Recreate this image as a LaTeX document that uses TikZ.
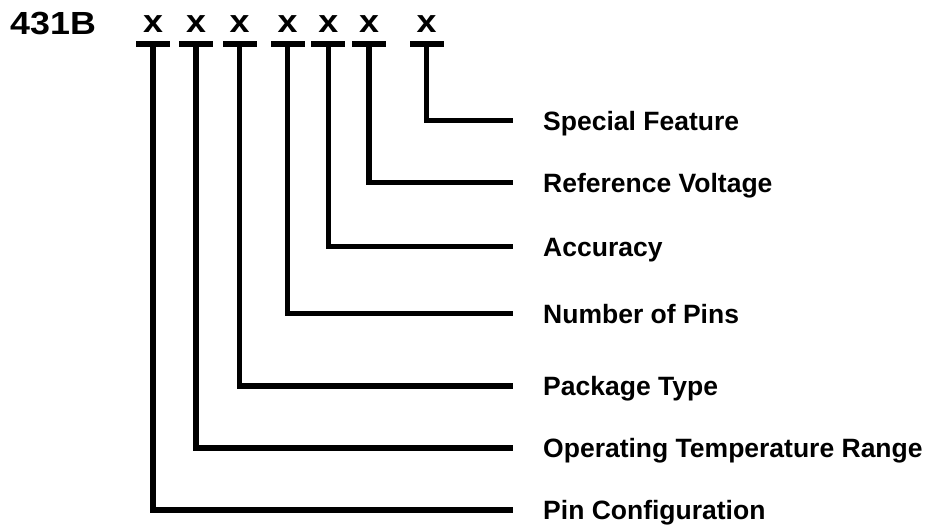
\documentclass[tikz,border=0pt]{standalone}
\usepackage{fontspec}
\setmainfont{Liberation Sans}
\begin{document}
\begin{tikzpicture}[x=1pt,y=-1pt,
  lbl/.style={font=\fontsize{26.5}{30}\selectfont\bfseries, anchor=west, inner sep=0pt, text height=19pt, text depth=0pt},
  hdr/.style={font=\fontsize{32}{36}\selectfont\bfseries, anchor=base, inner sep=0pt, xscale=1.12},
  uline/.style={fill=black, inner sep=0pt, minimum width=34pt, minimum height=6pt},
  conn/.style={line width=5.5pt, line join=miter}]
\useasboundingbox (0,0) rectangle (933,528);
% header
\node[hdr, anchor=base west] (h) at (10,34.5) {431B};
\foreach \i/\xx in {1/153,2/196,3/239.5,4/287.5,5/328.3,6/369,7/426.7}{
  \node[hdr] (x\i) at (\xx,32) {x};
  \node[uline] (u\i) at (\xx,43.5) {};
}
% labels
\node[lbl] (l1) at (543,510) {Pin Configuration};
\node[lbl] (l2) at (543,448) {Operating Temperature Range};
\node[lbl] (l3) at (543,386) {Package Type};
\node[lbl] (l4) at (543,313.5) {Number of Pins};
\node[lbl] (l5) at (543,246.5) {Accuracy};
\node[lbl] (l6) at (543,182.5) {Reference Voltage};
\node[lbl] (l7) at (543,120.5) {Special Feature};
% connector ends
\foreach \i in {1,...,7}{
  \coordinate (e\i) at ([xshift=-30pt]l\i.west);
  \draw[conn] (u\i.center) |- (e\i);
}
\end{tikzpicture}
\end{document}
